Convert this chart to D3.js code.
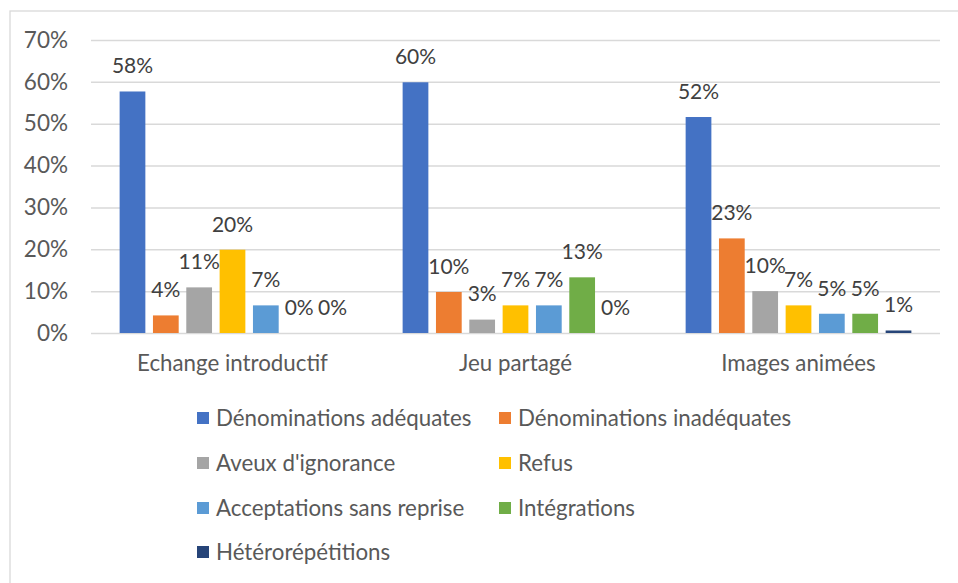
<!DOCTYPE html>
<html>
<head>
<meta charset="utf-8">
<script src="https://cdn.jsdelivr.net/npm/d3@7"></script>
<style>
  html, body { margin: 0; padding: 0; background: #fff; }
  svg text { font-family: Lato, "Open Sans", sans-serif; }
</style>
</head>
<body>
<svg id="chart" width="958" height="583"></svg>
<script>
// Categories (situations) and response types
const categories = ["Echange introductif", "Jeu partagé", "Images animées"];
const seriesNames = [
  "Dénominations adéquates",
  "Dénominations inadéquates",
  "Aveux d'ignorance",
  "Refus",
  "Acceptations sans reprise",
  "Intégrations",
  "Hétérorépétitions"
];
const seriesColors = ["#4472C4", "#ED7D31", "#A5A5A5", "#FFC000", "#5B9BD5", "#70AD47", "#264478"];

// Share of each response type, one array per series (order follows categories)
const denomAdequates   = [0.577, 0.599, 0.516];
const denomInadequates = [0.042, 0.098, 0.226];
const aveuxIgnorance   = [0.109, 0.032, 0.100];
const refus            = [0.199, 0.066, 0.066];
const acceptations     = [0.066, 0.066, 0.046];
const integrations     = [0.000, 0.133, 0.046];
const heterorepetitions= [0.000, 0.000, 0.006];

const seriesValues = [denomAdequates, denomInadequates, aveuxIgnorance, refus,
                      acceptations, integrations, heterorepetitions];

const yTicks = [0, 0.1, 0.2, 0.3, 0.4, 0.5, 0.6, 0.7];

const svg = d3.select("#chart");
const W = 958, H = 583;

// Chart frame
svg.append("rect")
  .attr("x", 10).attr("y", 11)
  .attr("width", W + 10).attr("height", H + 10)
  .attr("fill", "#fff").attr("stroke", "#D9D9D9").attr("stroke-width", 1.3);

const plot = { left: 91, right: 940, top: 40, bottom: 333 };

const y = d3.scaleLinear().domain([0, 0.7]).range([plot.bottom, plot.top]);
const x0 = d3.scaleBand().domain(categories)
  .range([plot.left, plot.right])
  .paddingInner(0.1755).paddingOuter(0.0877);
const x1 = d3.scaleBand().domain(seriesNames)
  .range([0, x0.bandwidth()])
  .paddingInner(0.228).paddingOuter(0.114);
const color = d3.scaleOrdinal().domain(seriesNames).range(seriesColors);
const pct = d3.format(".0%");

// Gridlines and value axis labels
const yAxis = d3.axisLeft(y).tickValues(yTicks).tickFormat(pct)
  .tickSize(-(plot.right - plot.left)).tickPadding(23);
const gy = svg.append("g").attr("transform", `translate(${plot.left},0)`).call(yAxis);
gy.select(".domain").remove();
gy.selectAll(".tick line").attr("stroke", "#D9D9D9").attr("stroke-width", 1.5);
gy.selectAll(".tick text")
  .attr("fill", "#595959").attr("font-size", 22.5)
  .attr("font-family", "Lato, 'Open Sans', sans-serif");

// Category axis labels
const xAxis = d3.axisBottom(x0).tickSize(0).tickPadding(22);
const gx = svg.append("g").attr("transform", `translate(0,${plot.bottom})`).call(xAxis);
gx.select(".domain").remove();
gx.selectAll(".tick text")
  .attr("fill", "#595959").attr("font-size", 22.3)
  .attr("font-family", "Lato, 'Open Sans', sans-serif");

// Bars
const rows = categories.map((c, i) => ({
  category: c,
  values: seriesNames.map((s, j) => ({ series: s, value: seriesValues[j][i] }))
}));

const groups = svg.append("g").selectAll("g")
  .data(rows).join("g")
  .attr("transform", d => `translate(${x0(d.category)},0)`);

groups.selectAll("rect")
  .data(d => d.values).join("rect")
  .attr("x", d => x1(d.series))
  .attr("width", x1.bandwidth())
  .attr("y", d => y(d.value))
  .attr("height", d => y(0) - y(d.value))
  .attr("fill", d => color(d.series));

// Value labels above bars
groups.selectAll("text")
  .data(d => d.values).join("text")
  .attr("x", d => x1(d.series) + x1.bandwidth() / 2)
  .attr("y", d => y(d.value) - 25.5)
  .attr("dy", "0.35em")
  .attr("text-anchor", "middle")
  .attr("fill", "#404040")
  .attr("font-size", 21)
  .text(d => pct(d.value));

// Legend: two columns
const legendCols = [197, 499];
const legendRows = [418, 463, 508, 552];
const legend = svg.append("g").selectAll("g")
  .data(seriesNames).join("g")
  .attr("transform", (d, i) => `translate(${legendCols[i % 2]},${legendRows[Math.floor(i / 2)]})`);
legend.append("rect")
  .attr("x", 0).attr("y", -6).attr("width", 12).attr("height", 12)
  .attr("fill", d => color(d));
legend.append("text")
  .attr("x", 19).attr("y", 0).attr("dy", "0.35em")
  .attr("fill", "#595959").attr("font-size", 22.3)
  .text(d => d);
</script>
</body>
</html>
